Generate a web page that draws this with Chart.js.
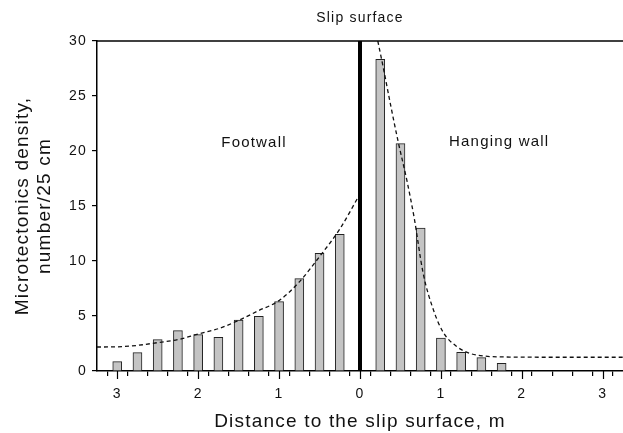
<!DOCTYPE html>
<html>
<head>
<meta charset="utf-8">
<script src="https://cdn.jsdelivr.net/npm/chart.js@4/dist/chart.umd.min.js"></script>
<style>
  html, body { margin: 0; padding: 0; background: #fff; }
  #wrap { width: 623px; height: 433px; }
</style>
</head>
<body>
<div id="wrap"><canvas id="densityChart"></canvas></div>
<script>
// distance in m: negative = footwall, positive = hanging wall
const footwallX = [-3.0, -2.75, -2.5, -2.25, -2.0, -1.75, -1.5, -1.25, -1.0, -0.75, -0.5, -0.25];
const footwallCounts = [0.85, 1.67, 2.85, 3.67, 3.3, 3.06, 4.64, 4.97, 6.3, 8.4, 10.7, 12.42];
const hangingX = [0.25, 0.5, 0.75, 1.0, 1.25, 1.5, 1.75];
const hangingCounts = [28.33, 20.67, 13.0, 3.0, 1.7, 1.21, 0.7];

// dashed fit curves
const footFitX = [-3.25, -3.0, -2.75, -2.5, -2.25, -2.0, -1.75, -1.5, -1.25, -1.0, -0.75, -0.5, -0.25, 0];
const footFitY = [2.18, 2.2, 2.33, 2.58, 2.85, 3.36, 3.85, 4.6, 5.5, 6.4, 8.1, 10.4, 12.9, 16.1];
const hangFitX = [0.22, 0.29, 0.375, 0.47, 0.58, 0.67, 0.78, 0.91, 1.03, 1.2, 1.36, 1.52, 1.85, 2.5, 3.25];
const hangFitY = [30, 27.5, 24.3, 20.9, 17.3, 13.9, 8.9, 5.5, 3.5, 2.2, 1.6, 1.37, 1.27, 1.25, 1.25];

const xMin = -3.25, xMax = 3.25;
const yTicks = [0, 5, 10, 15, 20, 25, 30];
const xLabelTicks = [-3, -2, -1, 0, 1, 2, 3];

const FONT = '"Liberation Sans", Arial, sans-serif';
const SPACING = '1.2px';

const toPoints = (xs, ys) => xs.map((x, i) => ({ x: x, y: ys[i] }));

const extrasPlugin = {
    id: 'extras',
    beforeLayout(chart) { chart.ctx.letterSpacing = SPACING; },
    beforeDraw(chart) { chart.ctx.letterSpacing = SPACING; },
    afterDraw(chart) {
        const ctx = chart.ctx;
        const area = chart.chartArea;
        const xs = chart.scales.x, ys = chart.scales.y;
        ctx.save();
        // top frame line
        ctx.strokeStyle = '#000';
        ctx.lineWidth = 1.5;
        ctx.beginPath();
        ctx.moveTo(area.left, area.top);
        ctx.lineTo(area.right, area.top);
        ctx.stroke();
        // longer ticks at whole metres
        ctx.lineWidth = 1.2;
        xLabelTicks.forEach(v => {
            const px = Math.round(xs.getPixelForValue(v)) + 0.5;
            ctx.beginPath();
            ctx.moveTo(px, area.bottom);
            ctx.lineTo(px, area.bottom + 8);
            ctx.stroke();
        });
        // annotations
        ctx.fillStyle = '#111';
        ctx.textAlign = 'center';
        ctx.textBaseline = 'middle';
        ctx.letterSpacing = SPACING;
        ctx.font = '14px ' + FONT;
        ctx.fillText('Slip surface', xs.getPixelForValue(0), area.top - 23);
        ctx.font = '15px ' + FONT;
        ctx.fillText('Footwall', xs.getPixelForValue(-1.31), ys.getPixelForValue(20.7));
        ctx.fillText('Hanging wall', xs.getPixelForValue(1.72), ys.getPixelForValue(20.8));
        ctx.restore();
    }
};

const ctx = document.getElementById('densityChart').getContext('2d');
new Chart(ctx, {
    type: 'bar',
    data: {
        datasets: [
            {
                type: 'line', data: [{ x: 0, y: 0 }, { x: 0, y: 30 }],
                borderColor: '#000', borderWidth: 4, pointRadius: 0, order: 0
            },
            {
                type: 'line', data: toPoints(footFitX, footFitY),
                borderColor: '#111', borderWidth: 1.3, borderDash: [4, 3],
                pointRadius: 0, cubicInterpolationMode: 'monotone', order: 1
            },
            {
                type: 'line', data: toPoints(hangFitX, hangFitY),
                borderColor: '#111', borderWidth: 1.3, borderDash: [4, 3],
                pointRadius: 0, cubicInterpolationMode: 'monotone', order: 1
            },
            {
                data: toPoints(footwallX, footwallCounts),
                backgroundColor: '#c4c4c4', borderColor: '#222', borderWidth: 1,
                barThickness: 9, grouped: false, order: 2
            },
            {
                data: toPoints(hangingX, hangingCounts),
                backgroundColor: '#c4c4c4', borderColor: '#222', borderWidth: 1,
                barThickness: 9, grouped: false, order: 2
            }
        ]
    },
    options: {
        responsive: true,
        maintainAspectRatio: false,
        animation: false,
        layout: { padding: { top: 41, right: 0, left: 0, bottom: 0 } },
        plugins: { legend: { display: false }, tooltip: { enabled: false } },
        scales: {
            x: {
                type: 'linear', min: xMin, max: xMax, offset: false,
                afterBuildTicks: scale => {
                    const t = [];
                    for (let i = 0; i <= 26; i++) t.push({ value: xMin + i * 0.25 });
                    scale.ticks = t;
                },
                afterFit: scale => {
                    scale.height = 62;
                    scale.paddingLeft = 0;
                    scale.paddingRight = 0;
                },
                grid: { display: true, drawOnChartArea: false, tickLength: 5, color: '#000', lineWidth: 1.2 },
                border: { display: true, color: '#000', width: 1.5 },
                ticks: {
                    autoSkip: false, maxRotation: 0, padding: 10,
                    color: '#111', font: { family: FONT, size: 14 },
                    callback: v => Number.isInteger(v) ? String(Math.abs(v)) : ''
                },
                title: {
                    display: true, text: 'Distance to the slip surface, m',
                    color: '#111', font: { family: FONT, size: 19 }, padding: { top: 2, bottom: 0 }
                }
            },
            y: {
                min: 0, max: 30,
                afterBuildTicks: scale => { scale.ticks = yTicks.map(v => ({ value: v })); },
                afterFit: scale => { scale.width = 97; },
                grid: { display: true, drawOnChartArea: false, tickLength: 5, color: '#000', lineWidth: 1.2 },
                border: { display: true, color: '#000', width: 1.5 },
                ticks: { padding: 5, color: '#111', font: { family: FONT, size: 14 } },
                title: {
                    display: true, text: ['Microtectonics density,', 'number/25 cm'],
                    color: '#111', font: { family: FONT, size: 19, lineHeight: 1.2 }, padding: { top: 11, bottom: 0 }
                }
            }
        }
    },
    plugins: [extrasPlugin]
});
</script>
</body>
</html>
